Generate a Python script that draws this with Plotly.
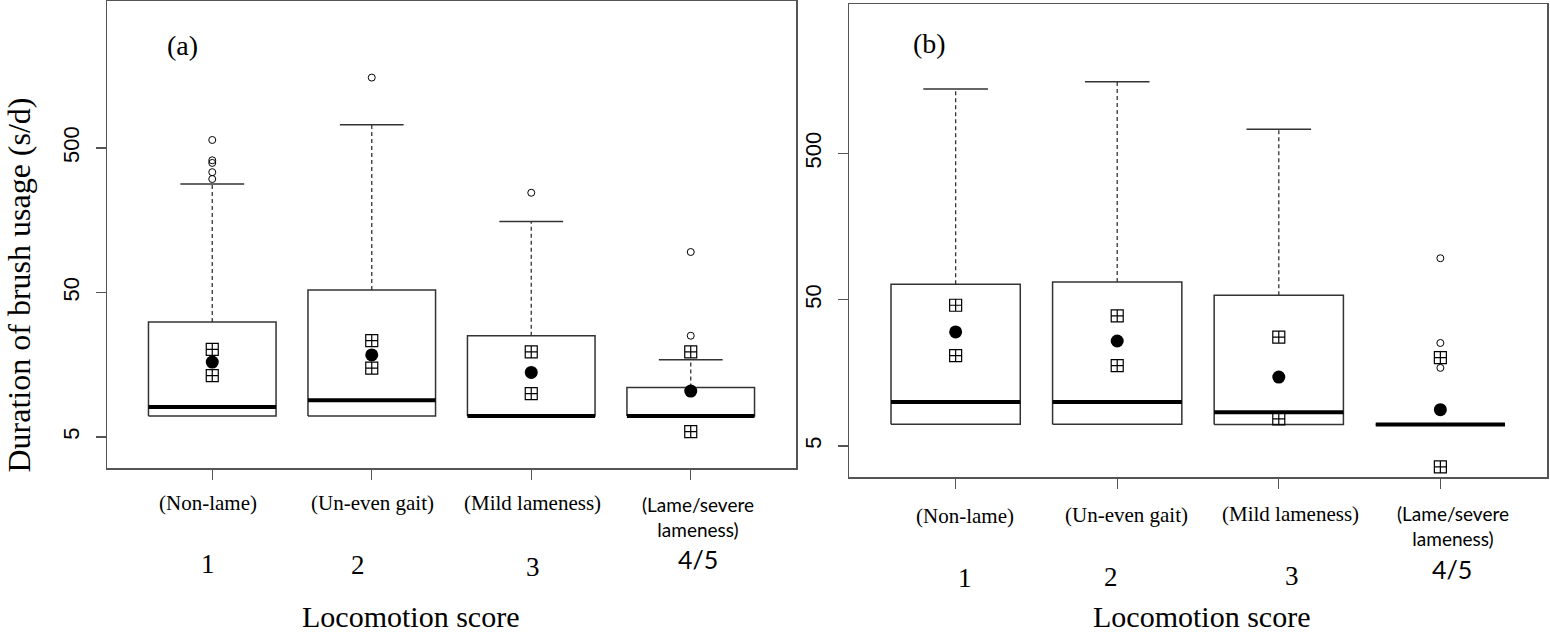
import plotly.graph_objects as go

# ---------------- data ----------------
groups = ["1", "2", "3", "4/5"]
descriptions = ["(Non-lame)", "(Un-even gait)", "(Mild lameness)", "(Lame/severe<br>lameness)"]
y_ticks = [5, 50, 500]

# panel (a)
a_q1 = [7.0, 7.0, 7.0, 7.0]
a_median = [8.07, 8.97, 7.0, 7.0]
a_q3 = [31.3, 52.0, 25.1, 11.0]
a_upper = [282, 725, 155, 17.1]
a_mean = [16.5, 18.5, 14.0, 10.4]
a_ci_low = [13.3, 15.0, 9.97, 5.44]
a_ci_high = [20.2, 23.2, 19.4, 19.4]
a_outliers = [[305, 340, 394, 411, 568], [1535], [245], [25.1, 95.3]]

# panel (b)
b_q1 = [7.03, 7.03, 7.0, 7.0]
b_median = [10.0, 10.0, 8.5, 7.0]
b_q3 = [63.7, 66.1, 53.6, 7.0]
b_upper = [1377, 1545, 731, 7.0]
b_mean = [30.1, 26.1, 14.8, 8.85]
b_ci_low = [20.7, 17.7, 7.65, 3.6]
b_ci_high = [45.8, 38.7, 27.7, 20.1]
b_outliers = [[], [], [], [17.1, 25.3, 96]]

# ---------------- figure ----------------
W, H = 1550, 634
BOXW = 0.4   # half box width (x units)
CAPW = 0.2   # half cap width
BOXCOL = "#333333"
FRAME = "#555555"


def px(p):
    return p / W


def py(p):
    return 1 - p / H


fig = go.Figure()


def add_panel(xa, ya, q1, med, q3, upper, mean, cil, cih, outl):
    xs = list(range(1, len(q1) + 1))
    # boxes
    bx, by = [], []
    for x, lo, hi in zip(xs, q1, q3):
        bx += [x - BOXW, x + BOXW, x + BOXW, x - BOXW, x - BOXW, None]
        by += [lo, lo, hi, hi, lo, None]
    fig.add_trace(go.Scatter(x=bx, y=by, mode="lines", xaxis=xa, yaxis=ya,
                             line=dict(color=BOXCOL, width=1.5), hoverinfo="skip"))
    # whiskers (dashed)
    wx, wy = [], []
    for x, hi, up in zip(xs, q3, upper):
        if up > hi:
            wx += [x, x, None]
            wy += [hi, up, None]
    fig.add_trace(go.Scatter(x=wx, y=wy, mode="lines", xaxis=xa, yaxis=ya,
                             line=dict(color=BOXCOL, width=1.3, dash="4px,3px"), hoverinfo="skip"))
    # caps
    cx, cy = [], []
    for x, hi, up in zip(xs, q3, upper):
        if up > hi:
            cx += [x - CAPW, x + CAPW, None]
            cy += [up, up, None]
    fig.add_trace(go.Scatter(x=cx, y=cy, mode="lines", xaxis=xa, yaxis=ya,
                             line=dict(color=BOXCOL, width=1.5), hoverinfo="skip"))
    # medians
    mx, my = [], []
    for x, m in zip(xs, med):
        mx += [x - BOXW, x + BOXW, None]
        my += [m, m, None]
    fig.add_trace(go.Scatter(x=mx, y=my, mode="lines", xaxis=xa, yaxis=ya,
                             line=dict(color="black", width=4), hoverinfo="skip"))
    # outliers
    ox, oy = [], []
    for x, vals in zip(xs, outl):
        for v in vals:
            ox.append(x)
            oy.append(v)
    fig.add_trace(go.Scatter(x=ox, y=oy, mode="markers", xaxis=xa, yaxis=ya,
                             marker=dict(symbol="circle-open", size=7, color="black",
                                         line=dict(width=1)), hoverinfo="skip"))
    # CI squares
    fig.add_trace(go.Scatter(x=xs + xs, y=cil + cih, mode="markers", xaxis=xa, yaxis=ya,
                             marker=dict(symbol="square-cross-open", size=12, color="black",
                                         line=dict(width=1.2)), hoverinfo="skip"))
    # means
    fig.add_trace(go.Scatter(x=xs, y=mean, mode="markers", xaxis=xa, yaxis=ya,
                             marker=dict(symbol="circle", size=13, color="black"), hoverinfo="skip"))


add_panel("x", "y", a_q1, a_median, a_q3, a_upper, a_mean, a_ci_low, a_ci_high, a_outliers)
add_panel("x2", "y2", b_q1, b_median, b_q3, b_upper, b_mean, b_ci_low, b_ci_high, b_outliers)

xcommon = dict(range=[0.34, 4.66], showgrid=False, zeroline=False, showline=True,
               linecolor=FRAME, linewidth=1.5, mirror=True, ticks="outside", ticklen=10,
               tickcolor=FRAME, tickwidth=1.3, tickvals=[1, 2, 3, 4], showticklabels=False)
ycommon = dict(type="log", showgrid=False, zeroline=False, showline=True,
               linecolor=FRAME, linewidth=1.5, mirror=True, ticks="outside", ticklen=10,
               tickcolor=FRAME, tickwidth=1.3, tickvals=y_ticks,
               ticktext=[str(v) for v in y_ticks], tickangle=-90,
               tickfont=dict(family="Liberation Sans", size=22, color="black"),
               ticklabelstandoff=8)

fig.update_layout(
    width=W, height=H, margin=dict(l=0, r=0, t=0, b=0),
    paper_bgcolor="white", plot_bgcolor="white", showlegend=False, hovermode=False,
    xaxis=dict(domain=[px(107), px(796)], anchor="y", **xcommon),
    yaxis=dict(domain=[py(468), py(1)], anchor="x", range=[0.4845, 3.716], **ycommon),
    xaxis2=dict(domain=[px(849), px(1547)], anchor="y2", **xcommon),
    yaxis2=dict(domain=[py(477), py(4)], anchor="x2", range=[0.487, 3.720], **ycommon),
)

SERIF = "Liberation Serif"
SANS = "Lato"
ann = []

# x category labels
panels = [
    dict(xref="x", desc_y=[503, 503, 503, 516.5], dig_y=[564, 565, 567, 559],
         desc_dx=[-4.5, 1, 1, 7], dig_dx=[-4, -14, 2, 7]),
    dict(xref="x2", desc_y=[516, 515, 514, 525.5], dig_y=[578, 577, 576, 569],
         desc_dx=[9, 9, 12, 13], dig_dx=[9, -6, 13, 12]),
]
for p in panels:
    for i, (g, d) in enumerate(zip(groups, descriptions)):
        last = i == len(groups) - 1
        ann.append(dict(x=i + 1, xref=p["xref"], y=py(p["desc_y"][i]), yref="paper",
                        text=d, showarrow=False, xanchor="center", yanchor="middle",
                        xshift=p["desc_dx"][i],
                        font=dict(family=SANS if last else SERIF, size=19 if last else 21,
                                  color="black")))
        ann.append(dict(x=i + 1, xref=p["xref"], y=py(p["dig_y"][i]), yref="paper",
                        text=g, showarrow=False, xanchor="center", yanchor="middle",
                        xshift=p["dig_dx"][i],
                        font=dict(family=SANS if last else SERIF, size=25 if last else 27,
                                  color="black")))

# axis titles and panel letters
ann.append(dict(x=px(410), y=0, xref="paper", yref="paper", text="Locomotion score",
                showarrow=False, xanchor="center", yanchor="bottom", yshift=-1,
                font=dict(family=SERIF, size=30, color="black")))
ann.append(dict(x=px(1201), y=0, xref="paper", yref="paper", text="Locomotion score",
                showarrow=False, xanchor="center", yanchor="bottom", yshift=-1,
                font=dict(family=SERIF, size=30, color="black")))
ann.append(dict(x=px(18), y=py(285.5), xref="paper", yref="paper",
                text="Duration of brush usage (s/d)", textangle=-90,
                showarrow=False, xanchor="center", yanchor="middle",
                font=dict(family=SERIF, size=32, color="black")))
ann.append(dict(x=px(182), y=py(45), xref="paper", yref="paper", text="(a)",
                showarrow=False, xanchor="center", yanchor="middle",
                font=dict(family=SERIF, size=28, color="black")))
ann.append(dict(x=px(929), y=py(43), xref="paper", yref="paper", text="(b)",
                showarrow=False, xanchor="center", yanchor="middle",
                font=dict(family=SERIF, size=28, color="black")))

fig.update_layout(annotations=ann)
fig.write_html("out.html", config={"displayModeBar": False, "staticPlot": True},
               post_script="document.body.style.margin='0';document.body.style.padding='0';")
